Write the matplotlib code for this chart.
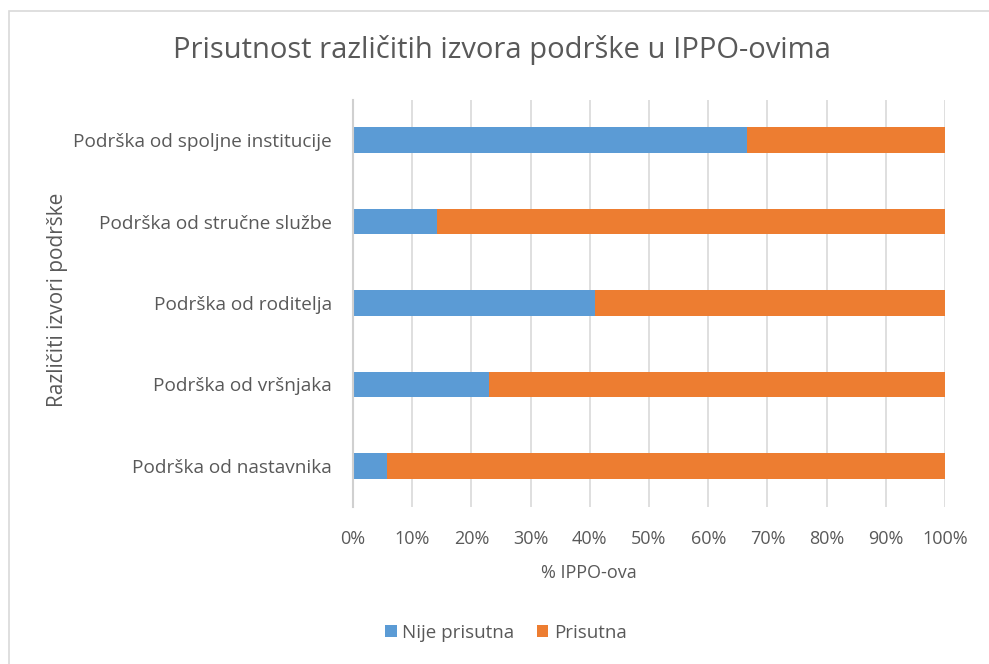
import matplotlib.pyplot as plt
from matplotlib.patches import Rectangle
import numpy as np

categories = ["Podrška od nastavnika", "Podrška od vršnjaka", "Podrška od roditelja",
              "Podrška od stručne službe", "Podrška od spoljne institucije"]
nije_prisutna = [5.7, 23.0, 40.9, 14.2, 66.6]
prisutna = [100 - v for v in nije_prisutna]
x_ticks = list(range(0, 101, 10))
x_ticklabels = [f"{t}%" for t in x_ticks]

plt.rcParams['font.family'] = ['Open Sans', 'DejaVu Sans']
txt = '#595959'

fig = plt.figure(figsize=(9.89, 6.64), dpi=100)
fig.patch.set_facecolor('white')
# chart border (left and top visible)
fig.patches.append(Rectangle((8.5/989, -0.1), 1.2, 1 - 10.5/664 + 0.1, transform=fig.transFigure,
                             fill=False, edgecolor='#d9d9d9', linewidth=1.2))

ax = fig.add_axes([353/989, 1 - 506.5/664, (945-353)/989, (506.5-99.5)/664])
y = np.arange(len(categories))
ax.barh(y, nije_prisutna, height=0.315, color='#5b9bd5', label='Nije prisutna', zorder=3)
ax.barh(y, prisutna, left=nije_prisutna, height=0.315, color='#ed7d31', label='Prisutna', zorder=3)

ax.set_xlim(0, 100)
ax.set_ylim(-0.5, len(categories) - 0.5)
ax.set_xticks(x_ticks)
ax.set_xticklabels(x_ticklabels, color=txt, fontsize=13)
ax.set_yticks(y)
ax.set_yticklabels(categories, color=txt, fontsize=13.7)
ax.tick_params(axis='x', length=0, pad=17)
ax.tick_params(axis='y', length=0, pad=15)
ax.grid(axis='x', color='#d9d9d9', linewidth=1.2, zorder=0)
for s in ['top', 'right', 'bottom']:
    ax.spines[s].set_visible(False)
ax.spines['left'].set_color('#d0d0d0')
ax.spines['left'].set_linewidth(1.5)
ax.spines['left'].set_zorder(4)

fig.text(589/989, 1 - 573/664, '% IPPO-ova', color=txt, fontsize=13, ha='center', va='center')
fig.text(58/989, 1 - 300/664, 'Različiti izvori podrške', rotation=90, color=txt,
         fontsize=15, ha='center', va='center')
fig.text(502/989, 1 - 50/664, 'Prisutnost različitih izvora podrške u IPPO-ovima',
         color=txt, fontsize=21, ha='center', va='center')

handles, labels = ax.get_legend_handles_labels()
fig.legend(handles, labels, loc='center', bbox_to_anchor=(506/989, 1 - 633/664), ncol=2,
           frameon=False, fontsize=13.5, labelcolor=txt, handlelength=0.6, handleheight=0.6,
           handletextpad=0.3, columnspacing=1.2)

fig.savefig('out.png', dpi=100)
